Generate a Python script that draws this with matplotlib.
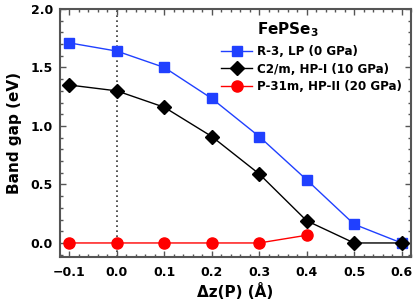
import numpy as np
import matplotlib.pyplot as plt
from matplotlib.ticker import MultipleLocator

plt.rcParams['font.family'] = ['DejaVu Sans']
plt.rcParams['font.weight'] = 'bold'
plt.rcParams['mathtext.default'] = 'bf'

dz = [-0.1, 0.0, 0.1, 0.2, 0.3, 0.4, 0.5, 0.6]
gap_lp = [1.71, 1.64, 1.50, 1.235, 0.91, 0.54, 0.16, 0.0]
gap_hp1 = [1.35, 1.30, 1.16, 0.91, 0.59, 0.19, 0.0, 0.0]
dz_hp2 = [-0.1, 0.0, 0.1, 0.2, 0.3, 0.4]
gap_hp2 = [0.0, 0.0, 0.0, 0.0, 0.0, 0.066]

labels = ['R-3, LP (0 GPa)', 'C2/m, HP-I (10 GPa)', 'P-31m, HP-II (20 GPa)']

fig = plt.figure(figsize=(4.15, 3.05), dpi=100)
ax = fig.add_axes([60/415, 1-257/305, 351/415, 248/305])

ax.axvline(0.0, color='#333333', ls=(0, (1, 2)), lw=1.2, zorder=0)
ax.plot(dz, gap_lp, '-s', color='#2040ff', ms=7, lw=1, label=labels[0])
ax.plot(dz, gap_hp1, '-D', color='black', ms=7.5, lw=1, label=labels[1])
ax.plot(dz_hp2, gap_hp2, '-o', color='#ff0000', ms=8, lw=1, label=labels[2])

ax.set_xlim(-0.12, 0.62)
ax.set_ylim(-0.12, 2.0)
ax.xaxis.set_major_locator(MultipleLocator(0.1))
ax.xaxis.set_minor_locator(MultipleLocator(0.02))
ax.yaxis.set_major_locator(MultipleLocator(0.5))
ax.yaxis.set_minor_locator(MultipleLocator(0.1))
ax.tick_params(which='both', direction='in', top=True, right=True, color='#555555', width=1)
ax.tick_params(which='major', length=4, labelsize=9)
ax.tick_params(which='minor', length=2)
ax.tick_params(axis='x', pad=6.5)
ax.tick_params(axis='y', pad=5)
for s in ax.spines.values():
    s.set_color('#555555')
    s.set_linewidth(1.5)

ax.set_xlabel('Δz(P) (Å)', fontsize=11, fontweight='bold', labelpad=3)
ax.set_ylabel('Band gap (eV)', fontsize=11, fontweight='bold', labelpad=6)

fig.text(257/415, 1-34/305, 'FePSe$_3$', fontsize=11, fontweight='bold', va='baseline')
ax.legend(loc='upper left', bbox_to_anchor=(221/415, 1-45/305), bbox_transform=fig.transFigure,
          frameon=False, fontsize=8.6, borderpad=0, borderaxespad=0,
          handlelength=2.6, handletextpad=0.4, labelspacing=0.39)

fig.savefig('out.png', dpi=100)
